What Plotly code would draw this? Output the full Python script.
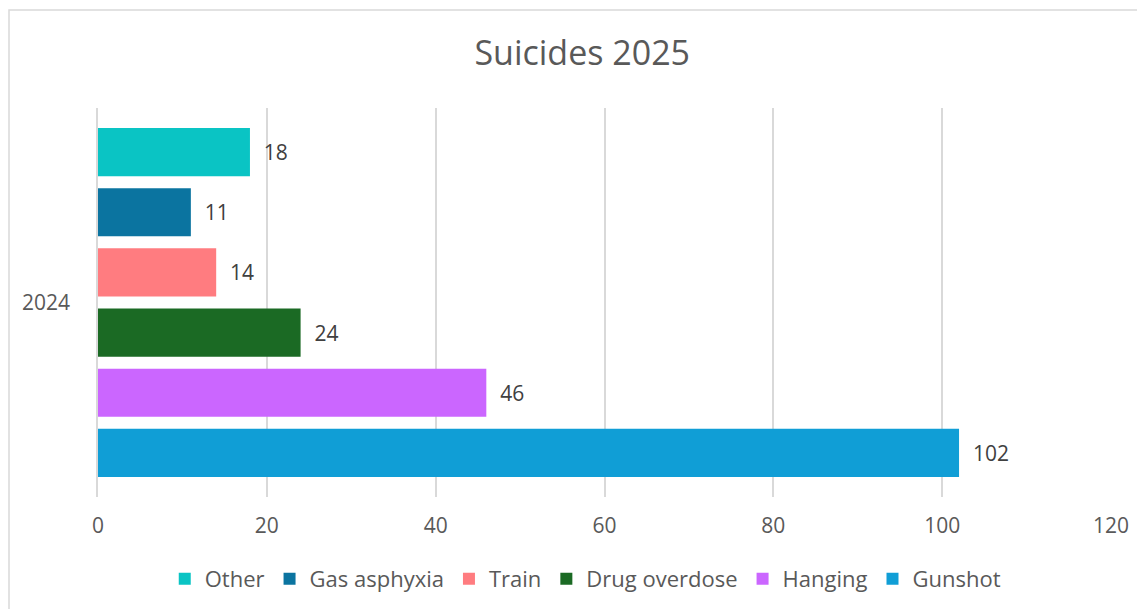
import plotly.graph_objects as go

categories = ["2024"]
series_names = ["Other", "Gas asphyxia", "Train", "Drug overdose", "Hanging", "Gunshot"]
series_values = [18, 11, 14, 24, 46, 102]
series_colors = ["#0AC4C4", "#0B74A0", "#FF7C80", "#1B6A24", "#CB66FF", "#109ED6"]
x_ticks = [0, 20, 40, 60, 80, 100, 120]

FONT = "Open Sans"
FS = 21

fig = go.Figure()
for name, val, col in zip(series_names, series_values, series_colors):
    fig.add_trace(go.Bar(
        name=name, y=categories, x=[val], orientation="h",
        marker=dict(color=col, line=dict(width=0)),
        text=[val], texttemplate="  %{x}", textposition="outside",
        textfont=dict(family=FONT, size=FS, color="#404040"),
        cliponaxis=False, hoverinfo="x+name",
    ))

L, R, T, B = 90, 42, 100, 120
W, H = 1145, 609
pw, ph = W - L - R, H - T - B

fig.update_layout(
    width=W, height=H,
    margin=dict(l=L, r=R, t=T, b=B, autoexpand=False),
    paper_bgcolor="white", plot_bgcolor="white",
    barmode="group", bargap=0.072, bargroupgap=0.2,
    font=dict(family=FONT, color="#595959", size=FS),
    title=dict(text="Suicides 2025", x=0.478, xref="paper", xanchor="center",
               y=1 - 45 / H, yanchor="middle",
               font=dict(family=FONT, size=34, color="#595959")),
    showlegend=True,
    legend=dict(orientation="h", x=0.481, xanchor="center", y=-(571 - (T + ph)) / ph,
                yanchor="middle",
                font=dict(family=FONT, size=FS + 1, color="#595959"),
                itemwidth=30, tracegroupgap=0),
    xaxis=dict(range=[0, 120], tickvals=x_ticks, showgrid=True, gridcolor="#D9D9D9",
               gridwidth=1.5, zeroline=False, showline=False, automargin=False,
               ticks="", ticklabelstandoff=14,
               tickfont=dict(family=FONT, size=FS, color="#595959")),
    yaxis=dict(autorange="reversed", showgrid=False, showline=True, automargin=False,
               linecolor="#D9D9D9", linewidth=1.5, ticks="", ticklabelstandoff=22,
               tickfont=dict(family=FONT, size=FS, color="#595959")),
    shapes=[dict(type="rect", xref="paper", yref="paper",
                 x0=-(L - 1) / pw, x1=1 + (R + 20) / pw,
                 y0=-(B + 20) / ph, y1=1 + (T - 2) / ph,
                 line=dict(color="#D9D9D9", width=1.5), fillcolor="rgba(0,0,0,0)",
                 layer="above")],
)

fig.write_html("out.html")
